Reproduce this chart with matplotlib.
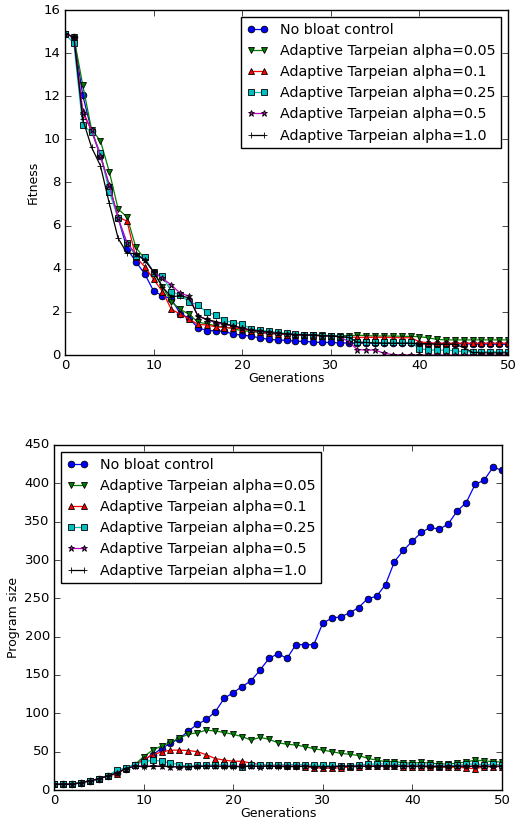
import matplotlib
matplotlib.use('agg')
import matplotlib.pyplot as plt
import numpy as np

plt.style.use('classic')

############ DATA ##########################################################

generations = np.arange(51)

labels = ["No bloat control",
          "Adaptive Tarpeian alpha=0.05",
          "Adaptive Tarpeian alpha=0.1",
          "Adaptive Tarpeian alpha=0.25",
          "Adaptive Tarpeian alpha=0.5",
          "Adaptive Tarpeian alpha=1.0"]

# Fitness per generation
fit_none = [14.9, 14.75, 12.05, 10.4, 9.25, 7.8, 6.35, 4.93, 4.33, 3.76,
            2.97, 2.75, 2.6, 1.92, 1.7, 1.27, 1.13, 1.13, 1.1, 0.96,
            0.93, 0.87, 0.8, 0.72, 0.7, 0.68, 0.64, 0.63, 0.6, 0.58,
            0.58, 0.56, 0.56, 0.55, 0.55, 0.55, 0.55, 0.54, 0.54, 0.54,
            0.53, 0.53, 0.53, 0.52, 0.52, 0.52, 0.52, 0.51, 0.51, 0.5, 0.5]
fit_a005 = [14.9, 14.75, 12.52, 10.45, 9.94, 8.5, 6.77, 6.4, 4.99, 4.45,
            3.85, 3.17, 2.47, 2.12, 1.89, 1.52, 1.45, 1.35, 1.3, 1.22,
            1.12, 1.1, 1.05, 1.0, 0.98, 0.97, 0.95, 0.94, 0.92, 0.92,
            0.9, 0.9, 0.9, 0.92, 0.9, 0.88, 0.88, 0.88, 0.87, 0.86,
            0.85, 0.8, 0.72, 0.7, 0.7, 0.7, 0.7, 0.7, 0.7, 0.7, 0.7]
fit_a01 = [14.9, 14.75, 11.33, 10.4, 9.3, 7.8, 6.4, 6.21, 4.53, 4.1,
           3.51, 2.94, 2.12, 1.9, 1.67, 1.42, 1.39, 1.31, 1.27, 1.25,
           1.22, 1.12, 1.05, 1.0, 0.97, 0.95, 0.93, 0.92, 0.9, 0.88,
           0.87, 0.85, 0.83, 0.82, 0.82, 0.82, 0.82, 0.81, 0.8, 0.8,
           0.62, 0.56, 0.55, 0.55, 0.55, 0.55, 0.55, 0.55, 0.55, 0.55, 0.55]
fit_a025 = [14.9, 14.45, 10.65, 10.34, 9.35, 7.58, 6.34, 5.18, 4.6, 4.53,
            3.82, 3.66, 2.94, 2.78, 2.47, 2.32, 1.98, 1.86, 1.6, 1.5,
            1.45, 1.2, 1.15, 1.1, 1.05, 1.0, 0.98, 0.95, 0.92, 0.9,
            0.88, 0.85, 0.8, 0.6, 0.58, 0.58, 0.58, 0.58, 0.58, 0.58,
            0.3, 0.23, 0.23, 0.22, 0.2, 0.15, 0.15, 0.15, 0.15, 0.15, 0.15]
fit_a05 = [14.9, 14.75, 11.2, 10.43, 9.23, 7.9, 6.34, 5.2, 4.67, 4.4,
           3.85, 3.55, 3.25, 2.86, 2.74, 1.8, 1.65, 1.5, 1.42, 1.35,
           1.25, 1.15, 1.1, 1.05, 1.0, 0.98, 0.95, 0.93, 0.92, 0.9,
           0.88, 0.85, 0.62, 0.25, 0.23, 0.23, 0.08, 0.02, 0.0, 0.0,
           0.0, 0.0, 0.0, 0.0, 0.0, 0.0, 0.0, 0.0, 0.0, 0.0, 0.0]
fit_a1 = [14.9, 14.75, 10.93, 9.63, 8.78, 7.03, 5.41, 4.72, 4.7, 4.4,
          3.86, 3.15, 2.7, 2.75, 2.65, 1.81, 1.65, 1.55, 1.45, 1.35,
          1.25, 1.15, 1.1, 1.05, 1.0, 0.98, 0.95, 0.93, 0.92, 0.9,
          0.88, 0.85, 0.82, 0.6, 0.58, 0.56, 0.55, 0.55, 0.55, 0.55,
          0.52, 0.52, 0.5, 0.5, 0.5, 0.35, 0.12, 0.1, 0.1, 0.1, 0.1]

# Program size per generation
size_none = [7.5, 7.5, 7.5, 9.6, 12, 14.5, 18.5, 22, 28, 33,
             39, 46, 54, 61, 67, 77, 85.7, 92, 102, 119.6,
             127, 135, 142.6, 156.5, 171.7, 177.8, 171.7, 189.6, 189.6, 189.6,
             217.8, 224, 226, 231, 238, 249.6, 252.6, 268, 298, 312.6,
             324.7, 336, 342.6, 340, 347, 364, 374.7, 398.7, 404, 421, 417]
size_a005 = [7.5, 7.5, 7.5, 9.6, 12, 14.5, 18.5, 22, 28, 33,
             43.5, 52, 57.4, 62, 68, 72.6, 74.8, 78, 77, 75,
             72.6, 69.6, 65, 68.7, 66, 61.7, 59.6, 58.7, 56.5, 53.9,
             52, 50, 47.8, 46.5, 45, 41.3, 39, 37, 37, 35.5,
             35, 36, 35, 34, 34, 35, 36.5, 39, 38, 37, 36.5]
size_a01 = [7.5, 7.5, 7.5, 9.6, 12, 14.5, 18.5, 21, 28, 32,
            40, 46, 49.5, 52, 52, 51.5, 50, 46, 41, 39,
            37.5, 37.5, 35, 33, 32, 32, 31, 31, 30.5, 29,
            28.5, 28.5, 29, 30, 30.5, 31, 31, 31, 31, 30.5,
            30.5, 30.5, 30, 30, 29.5, 30, 28.5, 28, 30, 30.5, 30.5]
size_a025 = [7.5, 7.5, 7.5, 9.6, 12, 14.5, 18.5, 26, 29, 33,
             37, 38.6, 38, 35, 33, 31, 32, 32, 33, 32.5,
             32, 29.5, 33, 33, 32, 33, 33, 33, 33, 32.5,
             32, 32, 31, 31, 33, 33.5, 34, 34, 33.5, 33,
             33, 33, 32, 31.5, 32, 32, 33.5, 34, 33, 33.5, 33]
size_a05 = [7.5, 7.5, 7.5, 9.6, 12, 14.5, 18.5, 22, 28, 31,
            31.5, 31, 31, 30.5, 30.5, 30.5, 31, 31, 31, 31,
            31, 31, 31, 30.5, 31, 31, 31, 31, 31, 30.5,
            30.5, 30.5, 31, 31, 31, 31, 31.5, 31.5, 31, 31,
            31, 31, 31, 31, 31, 31, 31, 31, 31, 31, 31]
size_a1 = [7.5, 7.5, 7.5, 9.6, 12, 14.5, 18.5, 22, 28, 31,
           30.5, 31, 31, 30.5, 30, 30.5, 30.5, 31, 31, 30.5,
           30.5, 30.5, 31, 31, 31, 30.5, 30.5, 30.5, 31, 30.5,
           30.5, 30.5, 31, 31, 31, 31, 31, 31.5, 31, 31,
           31, 31, 30.5, 30.5, 30.5, 31, 31, 31, 31, 31, 31]

###################################################################################

fitness = [fit_none, fit_a005, fit_a01, fit_a025, fit_a05, fit_a1]
sizes = [size_none, size_a005, size_a01, size_a025, size_a05, size_a1]
styles = ['b-o', 'g-v', 'r-^', 'c-s', 'm-*', 'k-+']

W, H = 517, 821
fig = plt.figure(figsize=(W / 100., H / 100.), dpi=100, facecolor='white')

ax1 = fig.add_axes([65. / W, 1 - 355. / H, 443. / W, 345. / H])
ax2 = fig.add_axes([54. / W, 1 - 790. / H, 448. / W, 345. / H])

for ys, st, lab in zip(fitness, styles, labels):
    ax1.plot(generations, ys, st, label=lab, markersize=4.8, linewidth=0.9,
             markeredgewidth=0.6)
for ys, st, lab in zip(sizes, styles, labels):
    ax2.plot(generations, ys, st, label=lab, markersize=4.8, linewidth=0.9,
             markeredgewidth=0.6)

ax1.set_xlim(0, 50)
ax1.set_ylim(0, 16)
ax1.set_xlabel("Generations", fontsize=9, labelpad=0)
ax1.set_ylabel("Fitness", fontsize=9, labelpad=3)
ax1.legend(loc='upper right', fontsize=10.3, borderaxespad=0.5,
           handlelength=1.5)

ax2.set_xlim(0, 50)
ax2.set_ylim(0, 450)
ax2.set_xlabel("Generations", fontsize=9, labelpad=0)
ax2.set_ylabel("Program size", fontsize=9, labelpad=3)
ax2.legend(loc='upper left', fontsize=10.3, borderaxespad=0.5,
           handlelength=1.5)

for ax in (ax1, ax2):
    ax.tick_params(labelsize=9.5, pad=3)

plt.savefig("out.png", dpi=100, facecolor='white')
plt.close()
